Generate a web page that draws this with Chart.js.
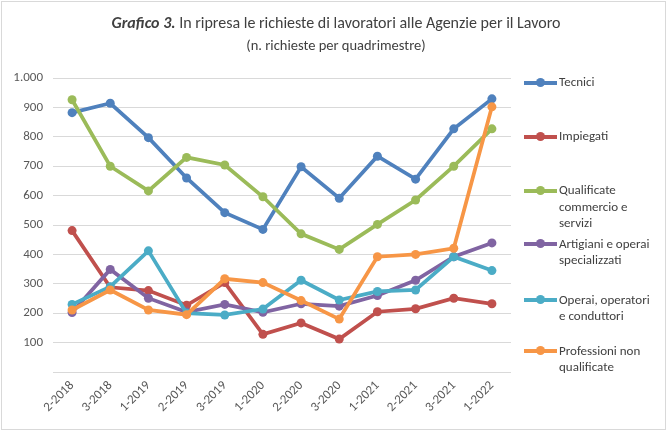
<!DOCTYPE html>
<html>
<head>
<meta charset="utf-8">
<script src="https://cdn.jsdelivr.net/npm/chart.js@4/dist/chart.umd.min.js"></script>
<style>
  html, body { margin: 0; padding: 0; background: #fff; }
  body { width: 672px; height: 435px; position: relative; overflow: hidden; font-family: Carlito, Lato, "Open Sans", sans-serif; }
  #frame { position: absolute; left: 1px; top: 1px; width: 665px; height: 429px; border: 1px solid #d9d9d9; box-sizing: border-box; }
  #wrap { position: absolute; left: 0; top: 0; width: 672px; height: 435px; }
  #title { position: absolute; left: 0; width: 672px; top: 13px; text-align: center; font-size: 16px; color: #404040; white-space: nowrap; }
  #subtitle { position: absolute; left: 0; width: 672px; top: 36px; text-align: center; font-size: 14.5px; color: #404040; white-space: nowrap; }
  .leg { position: absolute; left: 524px; font-size: 13px; color: #404040; line-height: 16.5px; }
  .leg .sym { position: absolute; left: 0; width: 33px; height: 4px; }
  .leg .dot { position: absolute; left: 12px; top: -3px; width: 9px; height: 9px; border-radius: 50%; }
  .leg .txt { position: absolute; left: 35px; top: 0; width: 110px; }
</style>
</head>
<body>
<div id="frame"></div>
<div id="wrap"><canvas id="c" width="672" height="435"></canvas></div>
<div id="title"><b><i>Grafico 3.</i></b> In ripresa le richieste di lavoratori alle Agenzie per il Lavoro</div>
<div id="subtitle">(n. richieste per quadrimestre)</div>
<div id="legend"></div>
<script>
const categories = ['2-2018','3-2018','1-2019','2-2019','3-2019','1-2020','2-2020','3-2020','1-2021','2-2021','3-2021','1-2022'];
const seriesNames = ['Tecnici','Impiegati','Qualificate commercio e servizi','Artigiani e operai specializzati','Operai, operatori e conduttori','Professioni non qualificate'];
const legendLines = [['Tecnici'],['Impiegati'],['Qualificate','commercio e','servizi'],['Artigiani e operai','specializzati'],['Operai, operatori','e conduttori'],['Professioni non','qualificate']];
const tecnici     = [882, 914, 797, 660, 542, 485, 698, 591, 734, 656, 827, 929];
const impiegati   = [481, 288, 277, 227, 304, 128, 167, 112, 205, 215, 251, 232];
const qualificate = [926, 700, 616, 730, 704, 596, 470, 417, 502, 585, 700, 827];
const artigiani   = [202, 349, 251, 204, 230, 203, 232, 224, 260, 312, 392, 439];
const operai      = [230, 290, 412, 200, 194, 214, 312, 245, 274, 279, 392, 345];
const professioni = [211, 279, 211, 195, 317, 304, 243, 180, 392, 400, 421, 902];
const colors = ['#4F81BD','#C0504D','#9BBB59','#8064A2','#4BACC6','#F79646'];
const allSeries = [tecnici, impiegati, qualificate, artigiani, operai, professioni];

const datasets = allSeries.map((d, i) => ({
  label: seriesNames[i],
  data: d,
  borderColor: colors[i],
  backgroundColor: colors[i],
  borderWidth: 3.75,
  pointRadius: 4.5,
  pointBorderWidth: 0,
  pointBackgroundColor: colors[i],
  tension: 0,
  fill: false,
  order: allSeries.length - i
}));

// HTML legend
const legTops = [82.7, 136.7, 190.7, 244, 300, 351];
const legend = document.getElementById('legend');
legendLines.forEach((lines, i) => {
  const el = document.createElement('div');
  el.className = 'leg';
  el.style.top = (legTops[i] - 8.25) + 'px';
  el.innerHTML = '<div class="sym" style="top:6.5px;background:' + colors[i] + '"><div class="dot" style="background:' + colors[i] + '"></div></div>' +
    '<div class="txt">' + lines.join('<br>') + '</div>';
  legend.appendChild(el);
});

new Chart(document.getElementById('c'), {
  type: 'line',
  data: { labels: categories, datasets },
  options: {
    responsive: false,
    animation: false,
    layout: { padding: { left: 0, right: 161, top: 78, bottom: 0 } },
    plugins: { legend: { display: false }, tooltip: { enabled: false }, title: { display: false } },
    scales: {
      x: {
        offset: true,
        grid: { display: false, drawTicks: false },
        border: { display: false },
        afterFit: s => { s.height = 63; },
        ticks: { color: '#595959', font: { family: 'Carlito, Lato, "Open Sans", sans-serif', size: 13 }, maxRotation: 45, minRotation: 45, padding: 6, autoSkip: false }
      },
      y: {
        min: 0, max: 1000,
        afterFit: s => { s.width = 53; },
        grid: { color: '#d9d9d9', lineWidth: 1, drawTicks: false },
        border: { display: false },
        ticks: {
          stepSize: 100, padding: 10, color: '#595959',
          font: { family: 'Carlito, Lato, "Open Sans", sans-serif', size: 13 },
          callback: v => v === 0 ? '' : (v >= 1000 ? Math.floor(v/1000) + '.' + String(v % 1000).padStart(3, '0') : String(v))
        }
      }
    }
  }
});
</script>
</body>
</html>
